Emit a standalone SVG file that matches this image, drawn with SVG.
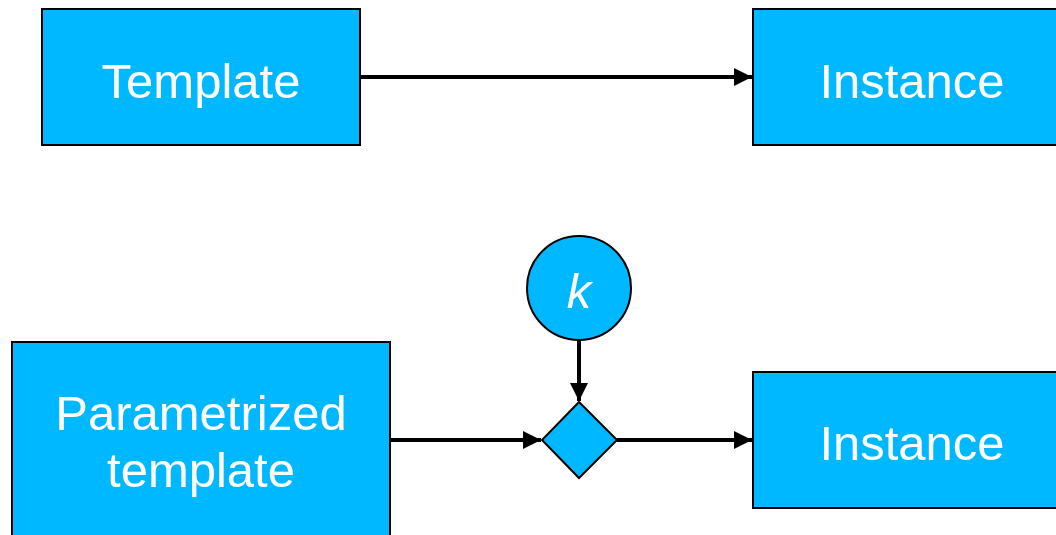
<svg xmlns="http://www.w3.org/2000/svg" width="1056" height="535" viewBox="0 0 1056 535">
  <style>
    .box { fill: #00b8ff; stroke: #000; stroke-width: 2; }
    .lbl { fill: #fff; font-family: "Liberation Sans", Arial, sans-serif; font-size: 49px; text-anchor: middle; }
    .wire { stroke: #000; stroke-width: 4; fill: none; }
  </style>
  <defs>
    <marker id="arrow" viewBox="0 0 10 10" refX="10" refY="5" markerWidth="4.5" markerHeight="4.5" markerUnits="strokeWidth" orient="auto">
      <path d="M0,0 L10,5 L0,10 z" fill="#000"/>
    </marker>
  </defs>
  <rect width="1056" height="535" fill="#fff"/>

  <g id="connectors">
    <line class="wire" x1="360" y1="77" x2="752" y2="77" marker-end="url(#arrow)"/>
    <line class="wire" x1="579" y1="340" x2="579" y2="401" marker-end="url(#arrow)"/>
    <line class="wire" x1="390" y1="440" x2="541" y2="440" marker-end="url(#arrow)"/>
    <line class="wire" x1="617" y1="440" x2="752" y2="440" marker-end="url(#arrow)"/>
  </g>

  <g id="template">
    <rect class="box" x="42" y="9" width="318" height="136"/>
    <text class="lbl" x="201" y="98">Template</text>
  </g>

  <g id="instance-top">
    <rect class="box" x="753" y="9" width="318" height="136"/>
    <text class="lbl" x="912" y="98">Instance</text>
  </g>

  <g id="param-k">
    <circle class="box" cx="579" cy="288" r="52"/>
    <text class="lbl" x="579" y="308" font-style="italic" font-size="47">k</text>
  </g>

  <g id="combine">
    <polygon class="box" points="579,402 617,440 579,478 542,440"/>
  </g>

  <g id="parametrized-template">
    <rect class="box" x="12" y="342" width="378" height="210"/>
    <text class="lbl" x="201" y="430">Parametrized</text>
    <text class="lbl" x="201" y="487">template</text>
  </g>

  <g id="instance-bottom">
    <rect class="box" x="753" y="372" width="318" height="136"/>
    <text class="lbl" x="912" y="460">Instance</text>
  </g>
</svg>
